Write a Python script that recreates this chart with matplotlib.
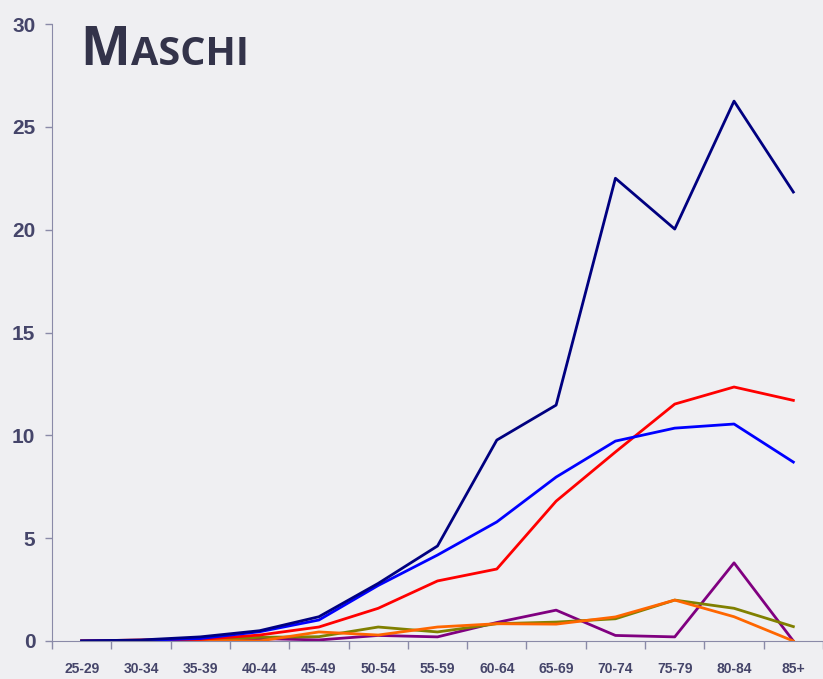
import matplotlib.pyplot as plt
import numpy as np

# age groups and rates
ages = ['25-29', '30-34', '35-39', '40-44', '45-49', '50-54', '55-59',
        '60-64', '65-69', '70-74', '75-79', '80-84', '85+']
navy = [0.0, 0.05, 0.2, 0.5, 1.18, 2.8, 4.62, 9.77, 11.47, 22.5, 20.03, 26.25, 21.83]
blue = [0.0, 0.03, 0.12, 0.45, 1.02, 2.7, 4.18, 5.79, 7.97, 9.72, 10.35, 10.55, 8.7]
red = [0.0, 0.05, 0.08, 0.29, 0.68, 1.59, 2.92, 3.5, 6.8, 9.19, 11.52, 12.35, 11.7]
olive = [0.0, 0.0, 0.02, 0.18, 0.21, 0.68, 0.44, 0.84, 0.92, 1.08, 1.99, 1.59, 0.7]
orange = [0.0, 0.0, 0.02, 0.0, 0.44, 0.29, 0.68, 0.84, 0.82, 1.17, 1.99, 1.18, 0.0]
purple = [0.0, 0.0, 0.05, 0.12, 0.05, 0.27, 0.2, 0.9, 1.5, 0.27, 0.2, 3.8, 0.0]

bg = '#efeff2'
txt = '#45456a'
axc = '#8a8aa8'

fig = plt.figure(figsize=(8.23, 6.79), dpi=100)
fig.patch.set_facecolor(bg)
ax = fig.add_axes([52/823, 38/679, 1 - 52/823, 617/679])
ax.set_facecolor(bg)

x = np.arange(len(ages))
ax.plot(x, purple, color='#800080', lw=2)
ax.plot(x, olive, color='#808000', lw=2)
ax.plot(x, orange, color='#ff6600', lw=2)
ax.plot(x, red, color='#ff0000', lw=2)
ax.plot(x, blue, color='#0000ff', lw=2)
ax.plot(x, navy, color='#000080', lw=2)

ax.set_xlim(-0.5, 12.5)
ax.set_ylim(0, 30)
ax.set_yticks(range(0, 31, 5))

ax.set_xticks(np.arange(-0.5, 12.6, 1))
ax.set_xticklabels([])
ax.set_xticks(x, minor=True)
ax.set_xticklabels(ages, minor=True)
ax.tick_params(axis='x', which='major', length=6, color=axc, width=1)
ax.tick_params(axis='x', which='minor', length=0, pad=15)
ax.tick_params(axis='y', length=5, color=axc, width=1, pad=7)

fam = 'Liberation Sans'
for lab in ax.get_xticklabels(minor=True):
    lab.set_family(fam)
    lab.set_fontsize(10)
    lab.set_fontweight('bold')
    lab.set_color(txt)
for lab in ax.get_yticklabels():
    lab.set_family(fam)
    lab.set_fontsize(15)
    lab.set_fontweight('bold')
    lab.set_color(txt)

for s in ['top', 'right']:
    ax.spines[s].set_visible(False)
ax.spines['left'].set_color(axc)
ax.spines['bottom'].set_color(axc)

# title in small caps
base = 1 - 65/679
t1 = fig.text(80/823, base, 'M', fontsize=38, color='#33334a',
              family='Open Sans', fontweight='bold', va='baseline')
fig.canvas.draw()
bb = t1.get_window_extent()
fig.text(bb.x1 / 823 + 0.001, base, 'ASCHI', fontsize=28.5, color='#33334a',
         family='Open Sans', fontweight='bold', va='baseline')

fig.savefig('out.png', dpi=100, facecolor=bg)
